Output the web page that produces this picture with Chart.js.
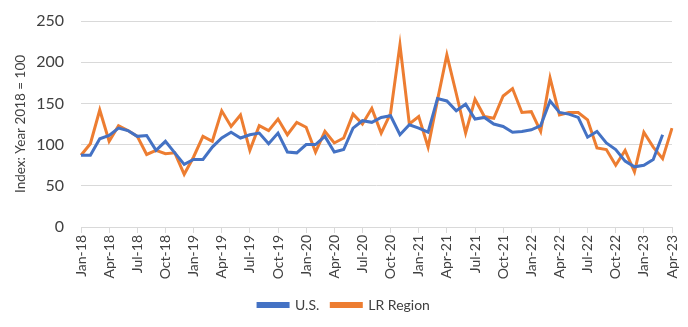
<!DOCTYPE html>
<html>
<head>
<meta charset="utf-8">
<script src="https://cdn.jsdelivr.net/npm/chart.js@4/dist/chart.umd.min.js"></script>
<style>
  html, body { margin: 0; padding: 0; background: #fff; }
  #wrap { width: 688px; height: 327px; }
</style>
</head>
<body>
<div id="wrap"><canvas id="myChart"></canvas></div>
<script>
const months = ['Jan', 'Feb', 'Mar', 'Apr', 'May', 'Jun', 'Jul', 'Aug', 'Sep', 'Oct', 'Nov', 'Dec'];
const categories = [];
for (let y = 18; y <= 23; y++) {
  for (let m = 0; m < 12; m++) {
    if (y === 23 && m > 3) break;
    categories.push(months[m] + '-' + y);
  }
}

const usValues = [
  87, 87, 107, 111, 120, 117, 110, 111, 93, 104, 90, 76,
  82, 82, 97, 108, 115, 108, 112, 114, 101, 114, 91, 90,
  100, 100, 110, 91, 94, 120, 129, 127, 133, 135, 112, 124,
  120, 115, 156, 153, 141, 149, 131, 133, 125, 122, 115, 116,
  118, 123, 153, 139, 137, 133, 109, 116, 102, 94, 80, 73,
  75, 82, 112, null
];

const lrValues = [
  87, 101, 142, 104, 123, 117, 110, 88, 93, 89, 90, 64,
  85, 110, 104, 141, 122, 136, 93, 123, 117, 131, 112, 127,
  121, 91, 116, 102, 108, 137, 125, 144, 114, 138, 221, 125,
  134, 97, 154, 209, 162, 114, 155, 134, 132, 159, 168, 139,
  140, 116, 181, 136, 139, 139, 130, 96, 94, 75, 93, 67,
  115, 97, 83, 120
];

const yTicks = [0, 50, 100, 150, 200, 250];

const font = "Lato, 'Open Sans', sans-serif";
const gridGray = '#d9d9d9';

new Chart(document.getElementById('myChart'), {
  type: 'line',
  data: {
    labels: categories,
    datasets: [
      {
        label: 'U.S.',
        data: usValues,
        borderColor: '#4472c4',
        backgroundColor: '#4472c4',
        borderWidth: 3,
        pointRadius: 0,
        tension: 0
      },
      {
        label: 'LR Region',
        data: lrValues,
        borderColor: '#ed7d31',
        backgroundColor: '#ed7d31',
        borderWidth: 3,
        pointRadius: 0,
        tension: 0
      }
    ]
  },
  options: {
    responsive: true,
    maintainAspectRatio: false,
    animation: false,
    layout: { padding: { top: 0, right: 0, left: 0, bottom: 5 } },
    plugins: {
      tooltip: { enabled: false },
      legend: {
        position: 'bottom',
        labels: {
          font: { family: font, size: 14 },
          color: '#404040',
          boxWidth: 30,
          boxHeight: 3,
          padding: 12
        }
      }
    },
    scales: {
      x: {
        offset: false,
        afterFit: s => { s.height = 59; s.paddingRight = 16; s.paddingLeft = 0; },
        border: { color: gridGray },
        grid: {
          drawOnChartArea: false,
          drawTicks: true,
          tickLength: 6,
          color: c => (c.index % 3 === 0 ? gridGray : 'transparent')
        },
        ticks: {
          autoSkip: false,
          maxRotation: 90,
          minRotation: 90,
          padding: 2,
          color: '#404040',
          font: { family: font, size: 14 },
          callback: (v, i) => (i % 3 === 0 ? categories[i] : '')
        }
      },
      y: {
        min: 0,
        max: 250,
        afterFit: s => { s.width = 81; s.paddingTop = 21; },
        afterBuildTicks: s => { s.ticks = yTicks.map(v => ({ value: v })); },
        border: { display: false },
        grid: { color: gridGray, drawTicks: false },
        ticks: {
          padding: 17,
          color: '#404040',
          font: { family: font, size: 16 }
        },
        title: {
          display: true,
          text: 'Index: Year 2018 = 100',
          color: '#404040',
          padding: { top: 13, bottom: 4 },
          font: { family: font, size: 13.5 }
        }
      }
    }
  }
});
</script>
</body>
</html>
